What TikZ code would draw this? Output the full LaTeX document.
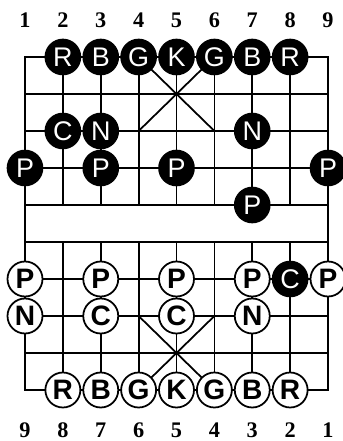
\documentclass[tikz,border=0pt]{standalone}
\usepackage{fontspec}
\setmainfont{Liberation Serif}
\setsansfont{Liberation Sans}

\begin{document}
\begin{tikzpicture}[
    x=1.13625cm, y=-1.11cm,
    grid/.style={line width=1.5pt},
    blk/.style={circle, fill=black, text=white, minimum size=1.1cm, inner sep=0pt, font=\sffamily\fontsize{23}{23}\selectfont},
    wht/.style={circle, draw, line width=1.5pt, fill=white, minimum size=1.05cm, inner sep=0pt, font=\sffamily\bfseries\fontsize{24}{24}\selectfont},
    num/.style={font=\bfseries\fontsize{19}{19}\selectfont}
]
\useasboundingbox (0.3399,-0.5405) rectangle (9.3960,11.3784);

% board
\draw[grid] (1,1) rectangle (9,10);
\foreach \r in {2,...,9} \draw[grid] (1,\r) -- (9,\r);
\foreach \c in {2,...,8} {
  \draw[grid] (\c,1) -- (\c,5);
  \draw[grid] (\c,6) -- (\c,10);
}
\draw[grid] (4,1) -- (6,3) (6,1) -- (4,3);
\draw[grid] (4,8) -- (6,10) (6,8) -- (4,10);

% file numbers
\foreach \c in {1,...,9} {
  \pgfmathtruncatemacro{\f}{10-\c}
  \node[num] (top\c) at (\c,0.0) {\c};
  \node[num] (bot\c) at (\c,11.08) {\f};
}

% black
\node[blk] (bRl) at (2,1) {R};
\node[blk] (bBl) at (3,1) {B};
\node[blk] (bGl) at (4,1) {G};
\node[blk] (bK) at (5,1) {K};
\node[blk] (bGr) at (6,1) {G};
\node[blk] (bBr) at (7,1) {B};
\node[blk] (bRr) at (8,1) {R};
\node[blk] (bCl) at (2,3) {C};
\node[blk] (bNl) at (3,3) {N};
\node[blk] (bNr) at (7,3) {N};
\node[blk] (bPa) at (1,4) {P};
\node[blk] (bPb) at (3,4) {P};
\node[blk] (bPc) at (5,4) {P};
\node[blk] (bPe) at (9,4) {P};
\node[blk] (bPd) at (7,5) {P};
\node[blk] (bCr) at (8,7) {C};

% red
\node[wht] (rPa) at (1,7) {P};
\node[wht] (rPb) at (3,7) {P};
\node[wht] (rPc) at (5,7) {P};
\node[wht] (rPd) at (7,7) {P};
\node[wht] (rPe) at (9,7) {P};
\node[wht] (rNl) at (1,8) {N};
\node[wht] (rCl) at (3,8) {C};
\node[wht] (rCr) at (5,8) {C};
\node[wht] (rNr) at (7,8) {N};
\node[wht] (rRl) at (2,10) {R};
\node[wht] (rBl) at (3,10) {B};
\node[wht] (rGl) at (4,10) {G};
\node[wht] (rK) at (5,10) {K};
\node[wht] (rGr) at (6,10) {G};
\node[wht] (rBr) at (7,10) {B};
\node[wht] (rRr) at (8,10) {R};
\end{tikzpicture}
\end{document}
